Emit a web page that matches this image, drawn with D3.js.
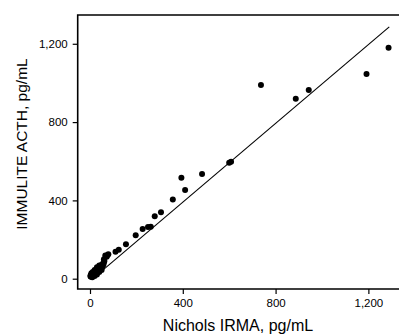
<!DOCTYPE html>
<html>
<head>
<meta charset="utf-8">
<script src="https://cdn.jsdelivr.net/npm/d3@7"></script>
<style>
  body { margin: 0; background: #fff; }
  text { font-family: Arial, "Liberation Sans", sans-serif; }
</style>
</head>
<body>
<script>
var width = 399, height = 335;

// Nichols IRMA (x) vs IMMULITE ACTH (y), pg/mL
var nicholsX = [2, 3, 4, 5, 6, 7, 8, 9, 10, 11, 12, 13, 14, 15, 16, 17, 18, 19, 20, 22,
    23, 24, 25, 27, 28, 29, 31, 32, 33, 35, 36, 38, 40, 41, 43, 45, 47, 49, 52, 54,
    56, 58, 60, 62, 66, 72, 79, 110, 124, 155, 197, 227, 250, 262, 279, 306, 357,
    394, 410, 483, 600, 608, 737, 887, 943, 1192, 1287,
    6, 12, 20, 30, 40, 10, 20, 30, 40, 50, 60, 75];
var immuliteY = [12, 18, 10, 15, 22, 13, 19, 25, 16, 28, 21, 14, 26, 32, 20, 29, 36, 24, 31, 40,
    27, 35, 44, 30, 39, 48, 36, 45, 52, 41, 50, 58, 46, 55, 63, 52, 60, 70, 58, 66,
    78, 72, 84, 90, 118, 112, 125, 138, 148, 176, 222, 254, 264, 266, 319, 339, 405,
    516, 453, 535, 592, 598, 990, 919, 964, 1045, 1180,
    28, 34, 45, 58, 68, 8, 14, 22, 34, 44, 100, 120];

// regression line
var fitSlope = 1.006, fitIntercept = -11.6;
var fitRange = [12, 1290];

var tickValues = [0, 400, 800, 1200];

var svg = d3.select("body").append("svg")
    .attr("width", width)
    .attr("height", height);

var x = d3.scaleLinear().domain([-53, 1332]).range([77.7, 399]);
var y = d3.scaleLinear().domain([-52.6, 1347]).range([289, 15]);

var fmt = d3.format(",");

// axes
var xAxis = svg.append("g")
    .attr("transform", "translate(0," + y.range()[0] + ")")
    .call(d3.axisBottom(x).tickValues(tickValues).tickSize(5).tickPadding(5).tickFormat(fmt));
var yAxis = svg.append("g")
    .attr("transform", "translate(" + x.range()[0] + ",0)")
    .call(d3.axisLeft(y).tickValues(tickValues).tickSize(5).tickPadding(5).tickFormat(fmt));

[xAxis, yAxis].forEach(function(a) {
    a.select(".domain").remove();
    a.selectAll("line").attr("stroke", "#000").attr("stroke-width", 1.2);
    a.selectAll("text").attr("fill", "#000").style("font-size", "11.5px");
});

// frame: left, top, bottom
var x0 = x.range()[0], x1 = x.range()[1], yb = y.range()[0], yt = y.range()[1];
svg.append("path")
    .attr("d", "M" + x1 + "," + yt + "H" + x0 + "V" + yb + "H" + x1)
    .attr("fill", "none")
    .attr("stroke", "#000")
    .attr("stroke-width", 1.6);

// fitted line
svg.append("line")
    .attr("x1", x(fitRange[0]))
    .attr("y1", y(fitSlope * fitRange[0] + fitIntercept))
    .attr("x2", x(fitRange[1]))
    .attr("y2", y(fitSlope * fitRange[1] + fitIntercept))
    .attr("stroke", "#000")
    .attr("stroke-width", 1.1);

// points
svg.append("g").selectAll("circle")
    .data(d3.range(nicholsX.length))
    .enter()
    .append("circle")
    .attr("cx", function(i) { return x(nicholsX[i]); })
    .attr("cy", function(i) { return y(immuliteY[i]); })
    .attr("r", 3)
    .attr("fill", "#000");

// axis titles
svg.append("text")
    .attr("x", 238)
    .attr("y", 331)
    .attr("text-anchor", "middle")
    .style("font-size", "16px")
    .text("Nichols IRMA, pg/mL");

svg.append("text")
    .attr("transform", "translate(27,144) rotate(-90)")
    .attr("text-anchor", "middle")
    .style("font-size", "15.5px")
    .text("IMMULITE ACTH, pg/mL");
</script>
</body>
</html>
